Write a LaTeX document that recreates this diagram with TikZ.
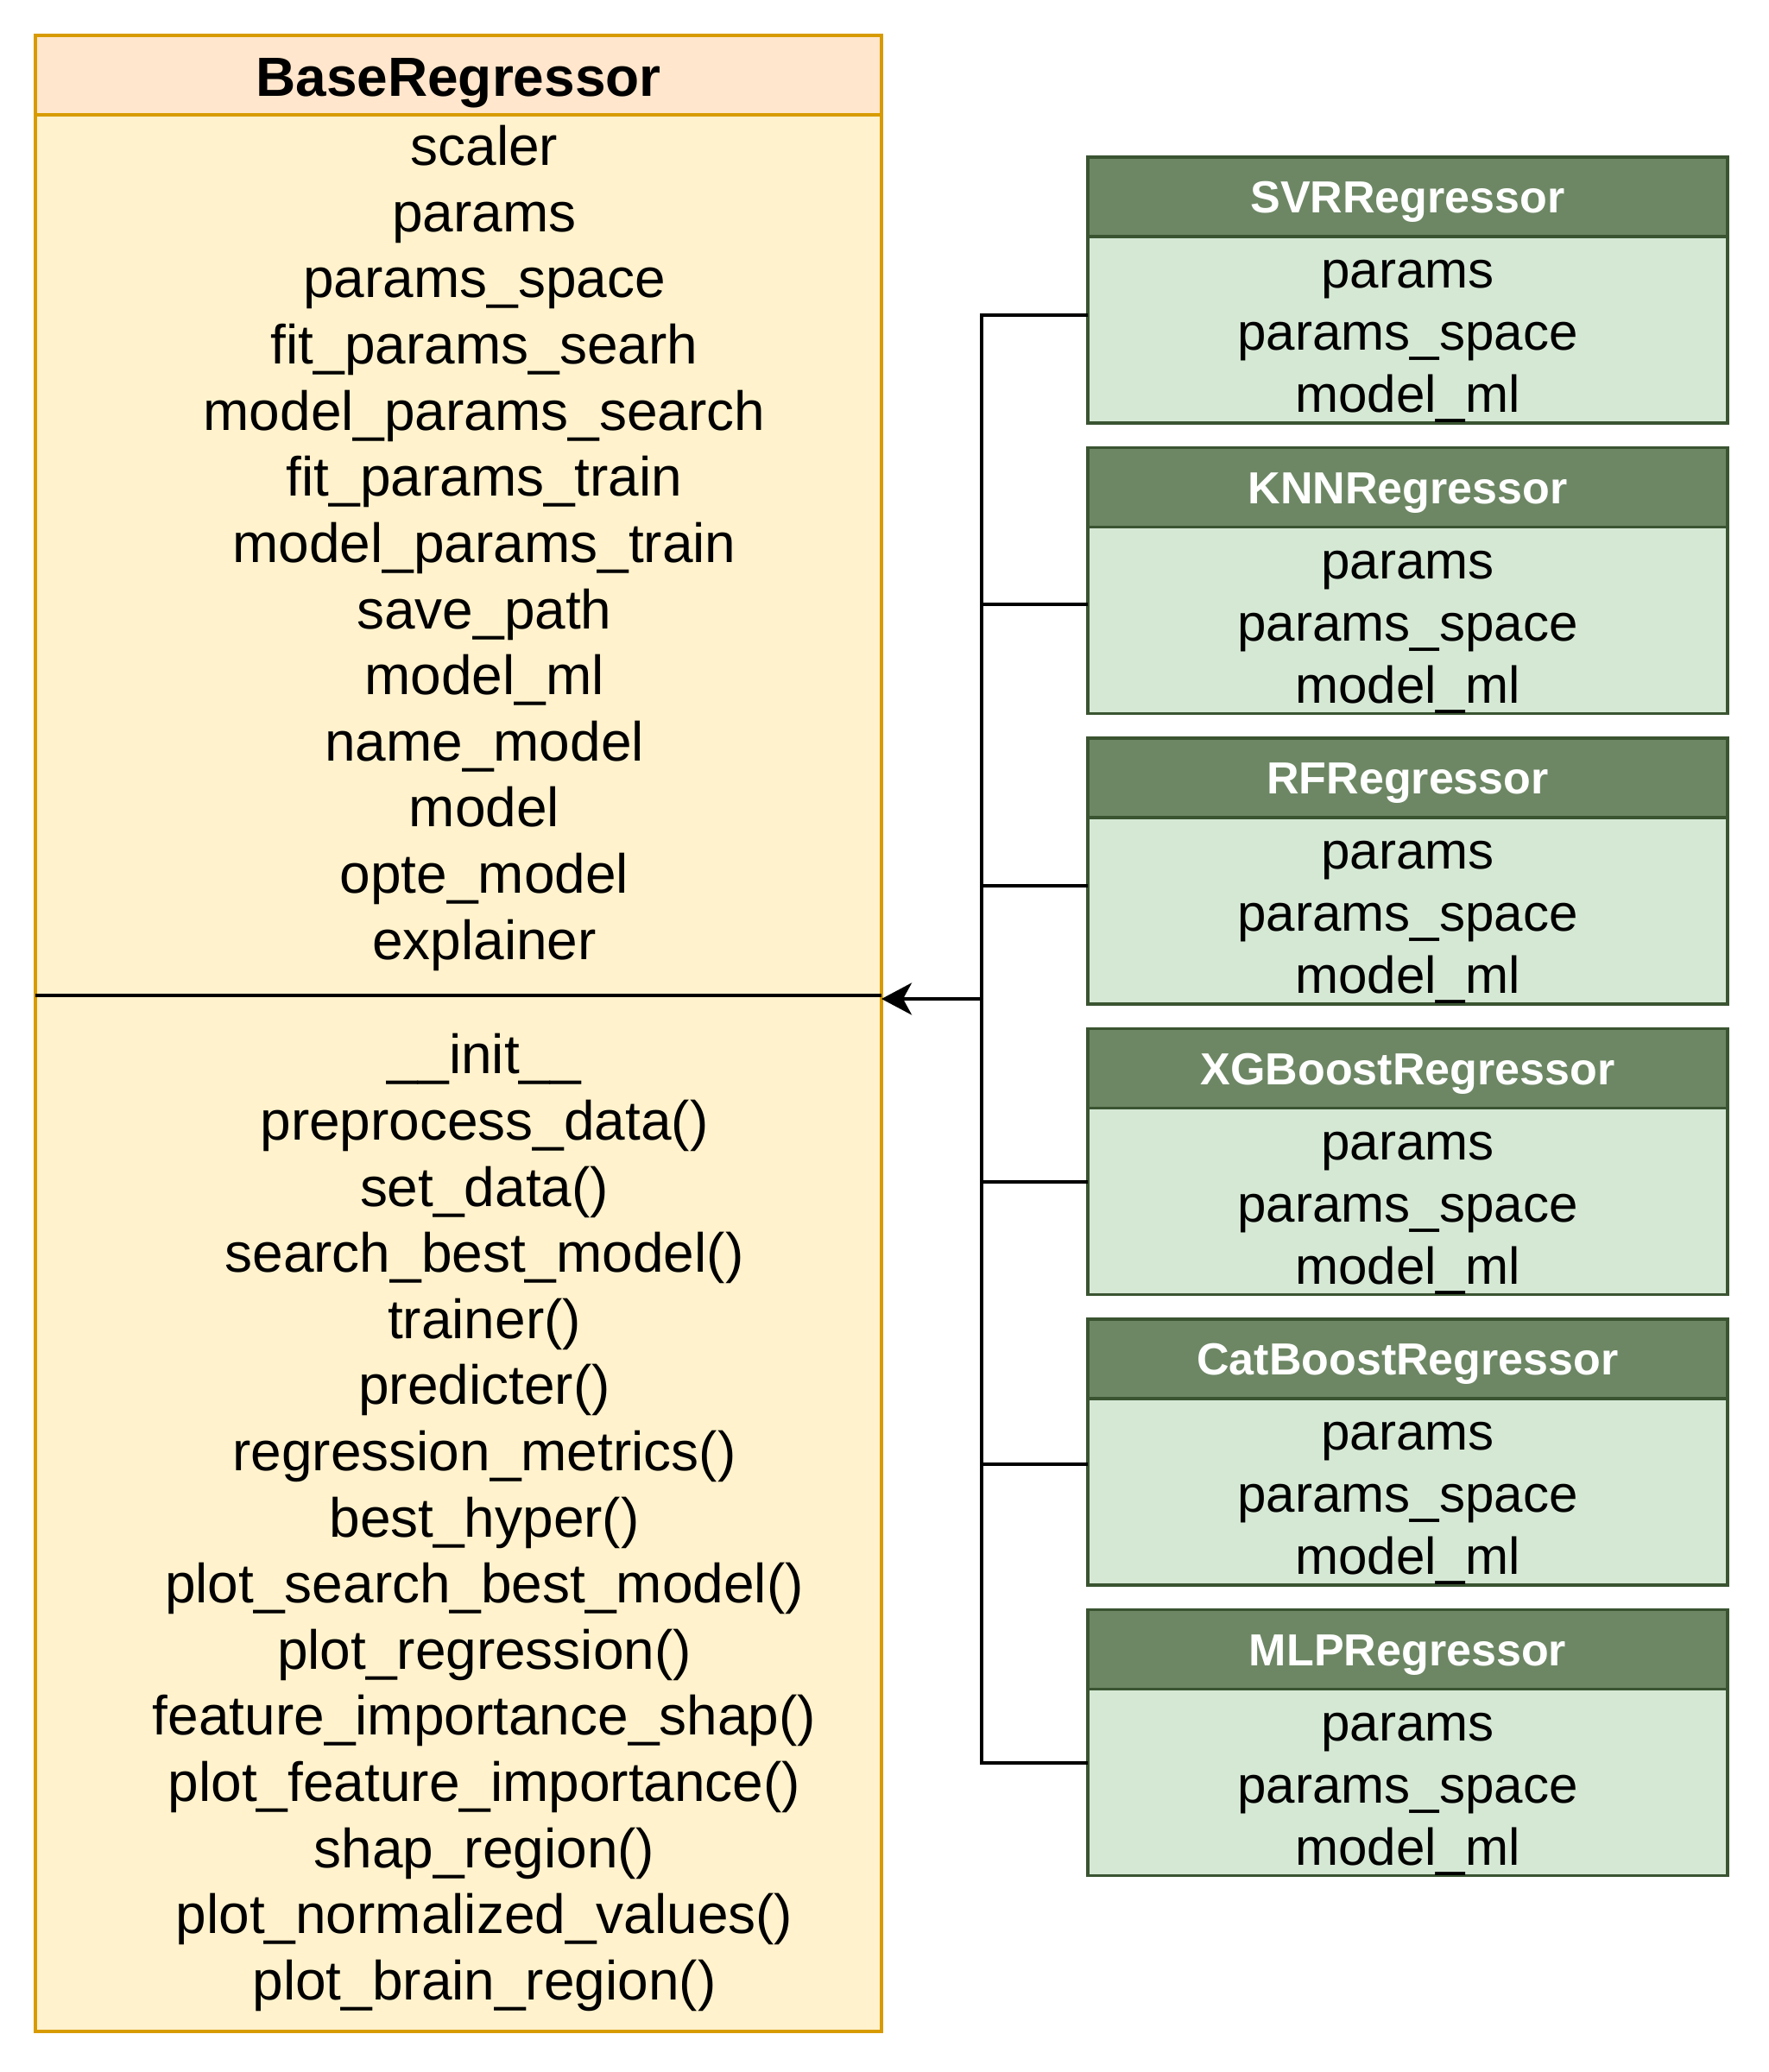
\documentclass[tikz,border=0pt]{standalone}
\usepackage{fontspec}
\setmainfont{Liberation Sans}
\usepackage{tikz}
\usetikzlibrary{arrows.meta,positioning}
\definecolor{bhead}{HTML}{FFE6CC}
\definecolor{bbody}{HTML}{FFF2CC}
\definecolor{bline}{HTML}{D79B00}
\definecolor{ghead}{HTML}{6D8764}
\definecolor{gbody}{HTML}{D5E8D4}
\definecolor{gline}{HTML}{3A5431}
% rows of a class compartment: space above, space below, lines
\newcommand{\rows}[3]{\begin{tabular}{@{}c@{}}\noalign{\vskip #1}#3\\[#2]\end{tabular}}
\newcommand{\subattrs}{\rows{2.6pt}{-2.7pt}{params\\params\_space\\model\_ml}}
\tikzset{
  cls/.style={rectangle,draw,line width=1.1pt,outer sep=0pt,inner sep=0pt},
  basehead/.style={cls,draw=bline,fill=bhead,minimum width=9.8cm,
              minimum height=0.92cm,text height=13.94pt,text depth=0pt,
              font=\fontsize{18.2pt}{21.8pt}\selectfont\bfseries},
  basebody/.style={cls,draw=bline,fill=bbody,minimum width=9.8cm,
              font=\fontsize{18.2pt}{21.8pt}\selectfont},
  subhead/.style={cls,draw=gline,fill=ghead,text=white,minimum width=7.41cm,
              minimum height=0.92cm,text height=10.8pt,text depth=0pt,
              font=\fontsize{14.8pt}{17pt}\selectfont\bfseries},
  subbody/.style={cls,draw=gline,fill=gbody,minimum width=7.41cm,
              minimum height=2.16cm,font=\fontsize{17.1pt}{20.5pt}\selectfont},
  link/.style={line width=1.1pt,black},
  inherit/.style={-{Stealth[length=3.5mm,width=3.7mm,inset=1mm]},link},
}
\begin{document}
\begin{tikzpicture}
  \useasboundingbox (0,0) rectangle (20.48,-24);
  % base class
  \node[basehead] (base) at (5.31,-0.87) {BaseRegressor};
  \node[basebody,minimum height=10.2cm,below=0pt of base] (attrs)
     {\hspace*{0.6cm}\rows{0pt}{3.9pt}{scaler\\params\\params\_space\\
      fit\_params\_searh\\model\_params\_search\\fit\_params\_train\\
      model\_params\_train\\save\_path\\model\_ml\\name\_model\\model\\
      opte\_model\\explainer}};
  \node[basebody,minimum height=12cm,below=0pt of attrs] (methods)
     {\hspace*{0.6cm}\rows{6.7pt}{0pt}{\_\_init\_\_\\preprocess\_data()\\
      set\_data()\\search\_best\_model()\\trainer()\\predicter()\\
      regression\_metrics()\\best\_hyper()\\plot\_search\_best\_model()\\
      plot\_regression()\\feature\_importance\_shap()\\
      plot\_feature\_importance()\\shap\_region()\\
      plot\_normalized\_values()\\plot\_brain\_region()}};
  \draw[link] (methods.north west) -- (methods.north east);
  % subclasses
  \node[subhead] (svr) at (16.305,-2.28) {SVRRegressor};
  \node[subbody,below=0pt of svr] (svrbody) {\subattrs};
  \node[subhead,below=0.285cm of svrbody] (knn) {KNNRegressor};
  \node[subbody,below=0pt of knn] (knnbody) {\subattrs};
  \node[subhead,below=0.285cm of knnbody] (rf) {RFRegressor};
  \node[subbody,below=0pt of rf] (rfbody) {\subattrs};
  \node[subhead,below=0.285cm of rfbody] (xgb) {XGBoostRegressor};
  \node[subbody,below=0pt of xgb] (xgbbody) {\subattrs};
  \node[subhead,below=0.285cm of xgbbody] (cat) {CatBoostRegressor};
  \node[subbody,below=0pt of cat] (catbody) {\subattrs};
  \node[subhead,below=0.285cm of catbody] (mlp) {MLPRegressor};
  \node[subbody,below=0pt of mlp] (mlpbody) {\subattrs};
  % inheritance tree
  \coordinate (j0) at (11.37,-11.57);
  \coordinate (j1) at (11.37,-3.65);
  \coordinate (j2) at (11.37,-7.00);
  \coordinate (j3) at (11.37,-10.26);
  \coordinate (j4) at (11.37,-13.69);
  \coordinate (j5) at (11.37,-16.96);
  \coordinate (j6) at (11.37,-20.42);
  \draw[link] (svrbody.west |- j1) -- (j1) -- (j6) -- (mlpbody.west |- j6);
  \draw[link] (knnbody.west |- j2) -- (j2);
  \draw[link] (rfbody.west |- j3) -- (j3);
  \draw[link] (xgbbody.west |- j4) -- (j4);
  \draw[link] (catbody.west |- j5) -- (j5);
  \draw[inherit] (j0) -- (j0 -| methods.east);
\end{tikzpicture}
\end{document}
